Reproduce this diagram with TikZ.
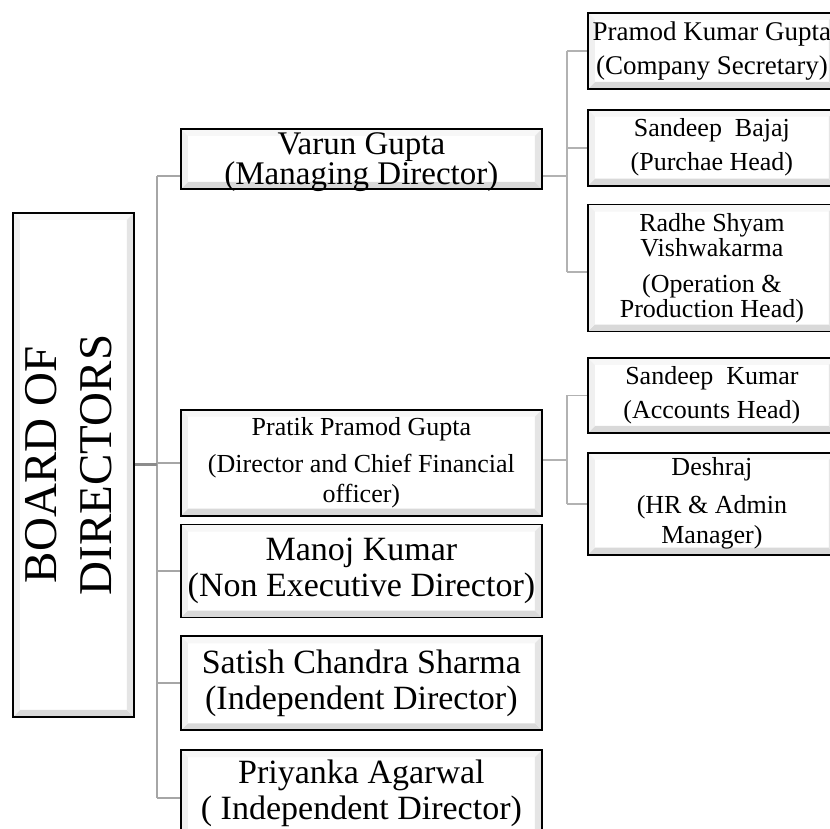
\documentclass[tikz,border=0pt]{standalone}
\usepackage{fontspec}
\setmainfont{Liberation Serif}
\usetikzlibrary{positioning}

\newcommand{\fpapan}{\fontsize{47}{55}\selectfont}
\newcommand{\fbesar}{\fontsize{34}{36}\selectfont}
\newcommand{\fvarun}{\fontsize{33}{30}\selectfont}
\newcommand{\fkecil}{\fontsize{26}{30}\selectfont}
\newcommand{\fstaf}{\fontsize{26}{34}\selectfont}
\newcommand{\frapat}{\fontsize{26}{25}\selectfont}

\begin{document}
\begin{tikzpicture}[
    x=1pt, y=-1pt,
    bevel/.style={path picture={
      \fill[gray!6] (path picture bounding box.north west) -- (path picture bounding box.north east)
        -- ++(-7pt,-7pt) -- ([shift={(7pt,-7pt)}]path picture bounding box.north west) -- cycle;
      \fill[gray!30] (path picture bounding box.south west) -- (path picture bounding box.south east)
        -- ++(-7pt,7pt) -- ([shift={(7pt,7pt)}]path picture bounding box.south west) -- cycle;
      \fill[gray!12] (path picture bounding box.north west) -- (path picture bounding box.south west)
        -- ++(7pt,7pt) -- ([shift={(7pt,-7pt)}]path picture bounding box.north west) -- cycle;
      \fill[gray!20] (path picture bounding box.north east) -- (path picture bounding box.south east)
        -- ++(-7pt,7pt) -- ([shift={(-7pt,-7pt)}]path picture bounding box.north east) -- cycle;
    }},
    jabatan/.style={draw=black, line width=1.8pt, fill=white, bevel, inner sep=0pt,
                    align=center, minimum width=361pt},
    staf/.style={jabatan, minimum width=248pt, anchor=north west, font=\fstaf},
    garis/.style={draw=gray!70, line width=1.8pt},
    ranting/.style={draw=gray!60, line width=1.8pt}
  ]
    \useasboundingbox (0,0) rectangle (830,828);
    \clip (0,0) rectangle (830,828);

    % dewan direksi
    \node[jabatan, minimum width=121pt, minimum height=504pt, anchor=north west] (papan) at (12,212)
      {\rotatebox{90}{\fpapan\begin{tabular}{@{}c@{}}BOARD OF\\DIRECTORS\end{tabular}}};

    % kolom direktur
    \node[jabatan, minimum height=60pt, anchor=north west, font=\fvarun, text depth=-2pt] (varun) at (180,128)
      {Varun Gupta\\(Managing Director)};
    \node[jabatan, minimum height=106pt, font=\fkecil, below=219pt of varun] (pratik)
      {Pratik Pramod Gupta\\[7pt](Director and Chief Financial\\officer)};
    \node[jabatan, minimum height=93pt, font=\fbesar, below=7pt of pratik] (manoj)
      {Manoj Kumar\\(Non Executive Director)};
    \node[jabatan, minimum height=94pt, font=\fbesar, below=17pt of manoj] (satish)
      {Satish Chandra Sharma\\(Independent Director)};
    \node[jabatan, minimum height=96pt, font=\fbesar, text depth=17pt, below=18pt of satish] (priyanka)
      {Priyanka Agarwal\\(\ Independent Director)};

    % kolom staf
    \node[staf, minimum height=76pt, font=\fontsize{27}{34}\selectfont] (pramod) at (587,12)
      {Pramod Kumar Gupta\\(Company Secretary)};
    \node[staf, minimum height=76pt, below=19pt of pramod] (bajaj)
      {Sandeep\ \ Bajaj\\(Purchae Head)};
    \node[staf, minimum height=127pt, font=\frapat, below=17pt of bajaj] (radhe)
      {Radhe Shyam\\Vishwakarma\\[11pt](Operation \&\\Production Head)};
    \node[staf, minimum height=75pt] (skumar) at (587,357)
      {Sandeep\ \ Kumar\\(Accounts Head)};
    \node[staf, minimum height=102pt, font=\fkecil, below=18pt of skumar] (deshraj)
      {Deshraj\\[8pt](HR \& Admin\\Manager)};

    % garis penghubung
    \coordinate (batang) at (157,465);
    \coordinate (cv) at ([yshift=-17pt]varun.west);
    \draw[garis] (batang |- cv) -- (batang |- priyanka.west);
    \draw[garis, draw=gray!90, line width=3pt] (papan.east) -- (papan.east -| batang);
    \draw[garis] (batang |- cv) -- (cv);
    \draw[garis] (batang |- pratik.west) -- (pratik.west);
    \draw[garis] (batang |- manoj.west) -- (manoj.west);
    \draw[garis] (batang |- satish.west) -- (satish.west);
    \draw[garis] (batang |- priyanka.west) -- (priyanka.west);

    \coordinate (simpulA) at ([xshift=24pt, yshift=-17pt]varun.east);
    \draw[ranting] ([yshift=-17pt]varun.east) -- (simpulA);
    \draw[ranting] (simpulA |- pramod.west) -- ([yshift=-4pt]simpulA |- radhe.west);
    \draw[ranting] (simpulA |- pramod.west) -- (pramod.west);
    \draw[ranting] (simpulA |- bajaj.west) -- (bajaj.west);
    \draw[ranting] ([yshift=-4pt]simpulA |- radhe.west) -- ([yshift=-4pt]radhe.west);

    \coordinate (simpulB) at ([xshift=24pt, yshift=3pt]pratik.east);
    \draw[ranting] ([yshift=3pt]pratik.east) -- (simpulB);
    \draw[ranting] (simpulB |- skumar.west) -- (simpulB |- deshraj.west);
    \draw[ranting] (simpulB |- skumar.west) -- (skumar.west);
    \draw[ranting] (simpulB |- deshraj.west) -- (deshraj.west);
  \end{tikzpicture}
\end{document}
